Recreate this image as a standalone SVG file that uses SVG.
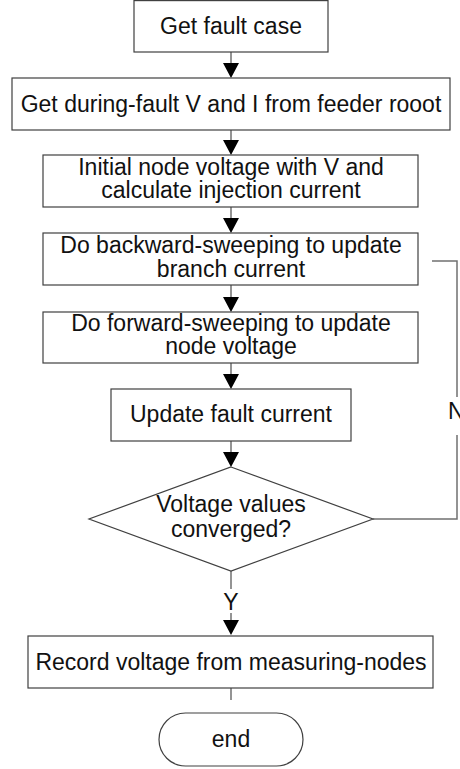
<svg xmlns="http://www.w3.org/2000/svg" width="460" height="769" viewBox="0 0 460 769">
  <style>
    .box { fill: #ffffff; stroke: #404040; stroke-width: 1.2; }
    .lbl { font-family: "Liberation Sans", Arial, sans-serif; font-size: 23px; fill: #111111; text-anchor: middle; }
    .wire { fill: none; stroke: #707070; stroke-width: 1.5; }
    .head { fill: #000000; }
  </style>
  <defs>
    <path id="arrowhead" class="head" d="M -8 0 L 8 0 L 0 15 Z"/>
  </defs>
  <rect width="460" height="769" fill="#ffffff"/>

  <g id="connectors">
    <path class="wire" d="M231 52 V64"/>
    <use href="#arrowhead" x="231" y="63"/>
    <path class="wire" d="M231 130 V141"/>
    <use href="#arrowhead" x="231" y="140"/>
    <path class="wire" d="M231 207 V218"/>
    <use href="#arrowhead" x="231" y="218"/>
    <path class="wire" d="M231 285 V297"/>
    <use href="#arrowhead" x="231" y="297"/>
    <path class="wire" d="M231 363 V374"/>
    <use href="#arrowhead" x="231" y="374"/>
    <path class="wire" d="M231 441 V453"/>
    <use href="#arrowhead" x="231" y="452"/>
    <!-- yes branch -->
    <path class="wire" d="M231 571 V589"/>
    <path class="wire" d="M231 613 V621"/>
    <use href="#arrowhead" x="231" y="620"/>
    <text class="lbl" x="231" y="610">Y</text>
    <!-- no branch loops back -->
    <path class="wire" d="M373 519 H457 V435"/>
    <path class="wire" d="M457 397 V261 H432"/>
    <text class="lbl" x="448" y="419" style="text-anchor:start">N</text>
    <!-- to end -->
    <path class="wire" d="M231 688 V700"/>
  </g>

  <g id="get-fault-case">
    <rect class="box" x="134" y="0.6" width="194" height="51.4"/>
    <text class="lbl" x="231" y="34">Get fault case</text>
  </g>

  <g id="get-during-fault">
    <rect class="box" x="12" y="78" width="438" height="52"/>
    <text class="lbl" x="231" y="112">Get during-fault V and I from feeder rooot</text>
  </g>

  <g id="initial-node-voltage">
    <rect class="box" x="43" y="155" width="375" height="52"/>
    <text class="lbl" x="231" y="175">Initial node voltage with V and</text>
    <text class="lbl" x="231" y="198">calculate injection current</text>
  </g>

  <g id="backward-sweep">
    <rect class="box" x="43" y="233" width="375" height="52"/>
    <text class="lbl" x="231" y="253">Do backward-sweeping to update</text>
    <text class="lbl" x="231" y="277">branch current</text>
  </g>

  <g id="forward-sweep">
    <rect class="box" x="43" y="312" width="375" height="51"/>
    <text class="lbl" x="231" y="331">Do forward-sweeping to update</text>
    <text class="lbl" x="231" y="354">node voltage</text>
  </g>

  <g id="update-fault-current">
    <rect class="box" x="111" y="389" width="240" height="52"/>
    <text class="lbl" x="231" y="422">Update fault current</text>
  </g>

  <g id="converged">
    <polygon class="box" points="231,467 373,519 231,571 89,519"/>
    <text class="lbl" x="231" y="512">Voltage values</text>
    <text class="lbl" x="231" y="537">converged?</text>
  </g>

  <g id="record-voltage">
    <rect class="box" x="28" y="636" width="405" height="52"/>
    <text class="lbl" x="231" y="670">Record voltage from measuring-nodes</text>
  </g>

  <g id="end">
    <rect class="box" x="159" y="713" width="144" height="53" rx="26.5" ry="26.5"/>
    <text class="lbl" x="231" y="747">end</text>
  </g>
</svg>
